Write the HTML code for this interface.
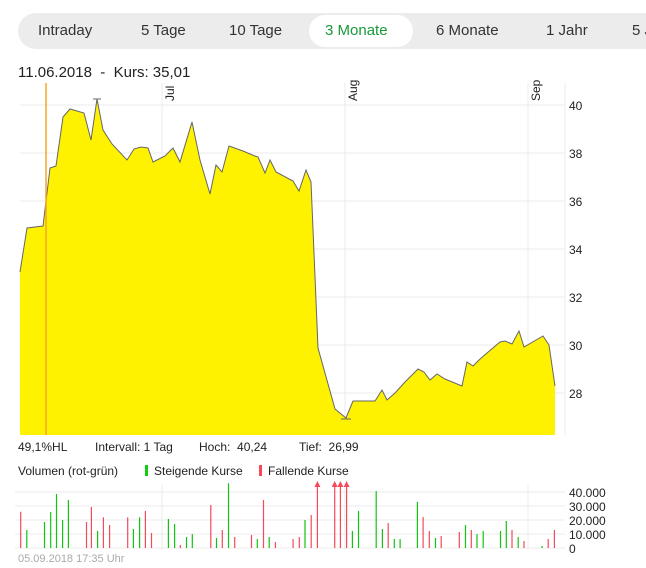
<!DOCTYPE html>
<html><head><meta charset="utf-8"><style>
body{margin:0;width:646px;height:568px;background:#fff;font-family:"Liberation Sans",sans-serif;overflow:hidden;position:relative;color:#222}
.tabs{position:absolute;left:18px;top:13px;width:660px;height:36px;background:#ececec;border-radius:18px}
.tab{position:absolute;top:9px;font-size:15px;color:#333}
.act{position:absolute;left:291px;top:2px;width:104px;height:32px;background:#fff;border-radius:16px}
.t{position:absolute;font-size:13px;white-space:nowrap}
</style></head><body>
<div class="tabs"><div class="act"></div>
<span class="tab" style="left:20px">Intraday</span>
<span class="tab" style="left:123px">5 Tage</span>
<span class="tab" style="left:211px">10 Tage</span>
<span class="tab" style="left:307px;color:#1a9a3a">3 Monate</span>
<span class="tab" style="left:418px">6 Monate</span>
<span class="tab" style="left:528px">1 Jahr</span>
<span class="tab" style="left:614px">5 J</span>
</div>
<div class="t" style="left:18px;top:64px;font-size:15px">11.06.2018 &nbsp;- &nbsp;Kurs: 35,01</div>
<div class="t" style="left:18px;top:440px;font-size:12px">49,1%HL</div>
<div class="t" style="left:95px;top:440px;font-size:12px">Intervall: 1 Tag</div>
<div class="t" style="left:199px;top:440px;font-size:12px">Hoch: &nbsp;40,24</div>
<div class="t" style="left:299px;top:440px;font-size:12px">Tief: &nbsp;26,99</div>
<div class="t" style="left:18px;top:464px;font-size:12px">Volumen (rot-grün)</div>
<div class="t" style="left:145px;top:464px;font-size:12px"><span style="display:inline-block;width:3px;height:11px;background:#1c1;margin-right:6px;vertical-align:-1px"></span>Steigende Kurse</div>
<div class="t" style="left:259px;top:464px;font-size:12px"><span style="display:inline-block;width:3px;height:11px;background:#f45;margin-right:6px;vertical-align:-1px"></span>Fallende Kurse</div>
<div class="t" style="left:18px;top:553px;font-size:11px;color:#aaa">05.09.2018 17:35 Uhr</div>
<svg id="s" width="646" height="568" style="position:absolute;left:0;top:0" font-family="Liberation Sans, sans-serif"></svg>
<script>
var s='';
var P=[[20,272],[27,228],[43,226],[50,168],[56,166],[63,117],[70,109],[84,113],[91,140],[97,99],[103,130],[112,144],[127,160],[134,149],[141,147],[148,148],[153,162],[165,156],[173,148],[180,162],[192,122],[200,160],[210,194],[216,165],[222,172],[229,146],[243,151],[255,156],[258,157],[265,173],[270,160],[276,172],[293,181],[299,191],[306,170],[311,182],[318,348],[335,409],[346,418],[353,401],[375,401],[382,390],[387,400],[395,393],[405,382],[418,369],[424,372],[430,380],[437,374],[445,379],[462,386],[467,362],[473,366],[479,360],[487,353],[500,342],[505,341],[512,344],[519,331],[524,347],[543,336],[549,345],[555,386]];
[105,153,201,249,297,345,393].forEach(function(y,i){s+='<line x1="20" x2="565" y1="'+y+'" y2="'+y+'" stroke="#ebebeb"/>';s+='<text x="569" y="'+(y+5)+'" font-size="12" fill="#222">'+(40-2*i)+'</text>';});
[162,345,528].forEach(function(x){s+='<line x1="'+x+'" x2="'+x+'" y1="83" y2="435" stroke="#ebebeb"/><line x1="'+x+'" x2="'+x+'" y1="485" y2="550" stroke="#ebebeb"/>';});
s+='<line x1="565" x2="565" y1="83" y2="435" stroke="#ebebeb"/>';
var d='M20,435 '+P.map(function(p){return 'L'+p[0]+','+p[1]}).join(' ')+' L555,435Z';
s+='<path d="'+d+'" fill="#fff200"/>';
s+='<polyline points="'+P.map(function(p){return p.join(',')}).join(' ')+'" fill="none" stroke="#666" stroke-width="1"/>';
s+='<line x1="46" x2="46" y1="83" y2="435" stroke="#f5a623" stroke-width="1.5"/>';
s+='<line x1="93" x2="101" y1="99" y2="99" stroke="#666"/><line x1="341" x2="351" y1="419" y2="419" stroke="#666"/>';
[['Jul',162],['Aug',345],['Sep',528]].forEach(function(a){s+='<text transform="translate('+(a[1]+12)+',101) rotate(-90)" font-size="12" fill="#222">'+a[0]+'</text>';});
[[492,'40.000'],[506,'30.000'],[520,'20.000'],[534,'10.000'],[548,'0']].forEach(function(v){s+='<line x1="15" x2="565" y1="'+v[0]+'" y2="'+v[0]+'" stroke="#ebebeb"/><text x="569" y="'+(v[0]+5)+'" font-size="12" fill="#222">'+v[1]+'</text>';});
var V=[[49,245,'r'],[64,300,'g'],[107,276,'g'],[122,246,'g'],[136,192,'g'],[151,270,'g'],[165,210,'g'],[209,276,'r'],[221,231,'r'],[236,303,'g'],[250,262,'r'],[265,285,'r'],[309,262,'r'],[323,297,'g'],[338,262,'g'],[352,243,'r'],[367,309,'r'],[408,267,'g'],[423,282,'g'],[437,345,'r'],[452,321,'g'],[466,312,'g'],[511,225,'r'],[525,324,'g'],[539,300,'r'],[554,160,'g'],[569,321,'r'],[610,315,'r'],[624,327,'g'],[639,210,'r'],[653,321,'g'],[668,336,'r'],[711,327,'r'],[726,321,'r'],[740,270,'g'],[755,255,'r'],[770,165,'a'],[812,165,'a'],[826,165,'a'],[841,165,'a'],[855,303,'g'],[870,243,'g'],[913,183,'g'],[928,297,'g'],[942,279,'r'],[957,327,'g'],[971,327,'g'],[1013,216,'g'],[1027,261,'r'],[1042,303,'r'],[1057,324,'g'],[1071,318,'r'],[1115,306,'r'],[1130,285,'g'],[1144,300,'r'],[1158,312,'g'],[1173,303,'g'],[1215,303,'g'],[1229,273,'g'],[1243,300,'r'],[1258,321,'g'],[1272,333,'r'],[1316,348,'g'],[1331,327,'r'],[1346,300,'r']];
V.forEach(function(v){var x=(v[0]/2.43+0.5).toFixed(1),y=(v[1]/3+430).toFixed(1),c=v[2]=='g'?'#11c411':'#f44a5a';
s+='<line x1="'+x+'" x2="'+x+'" y1="'+y+'" y2="548" stroke="'+c+'" stroke-width="1.2"/>';
if(v[2]=='a')s+='<path d="M'+(x-3)+',487 L'+x+',481 L'+(+x+3)+',487Z" fill="'+c+'"/>';});
document.getElementById('s').innerHTML=s;
</script>
</body></html>
